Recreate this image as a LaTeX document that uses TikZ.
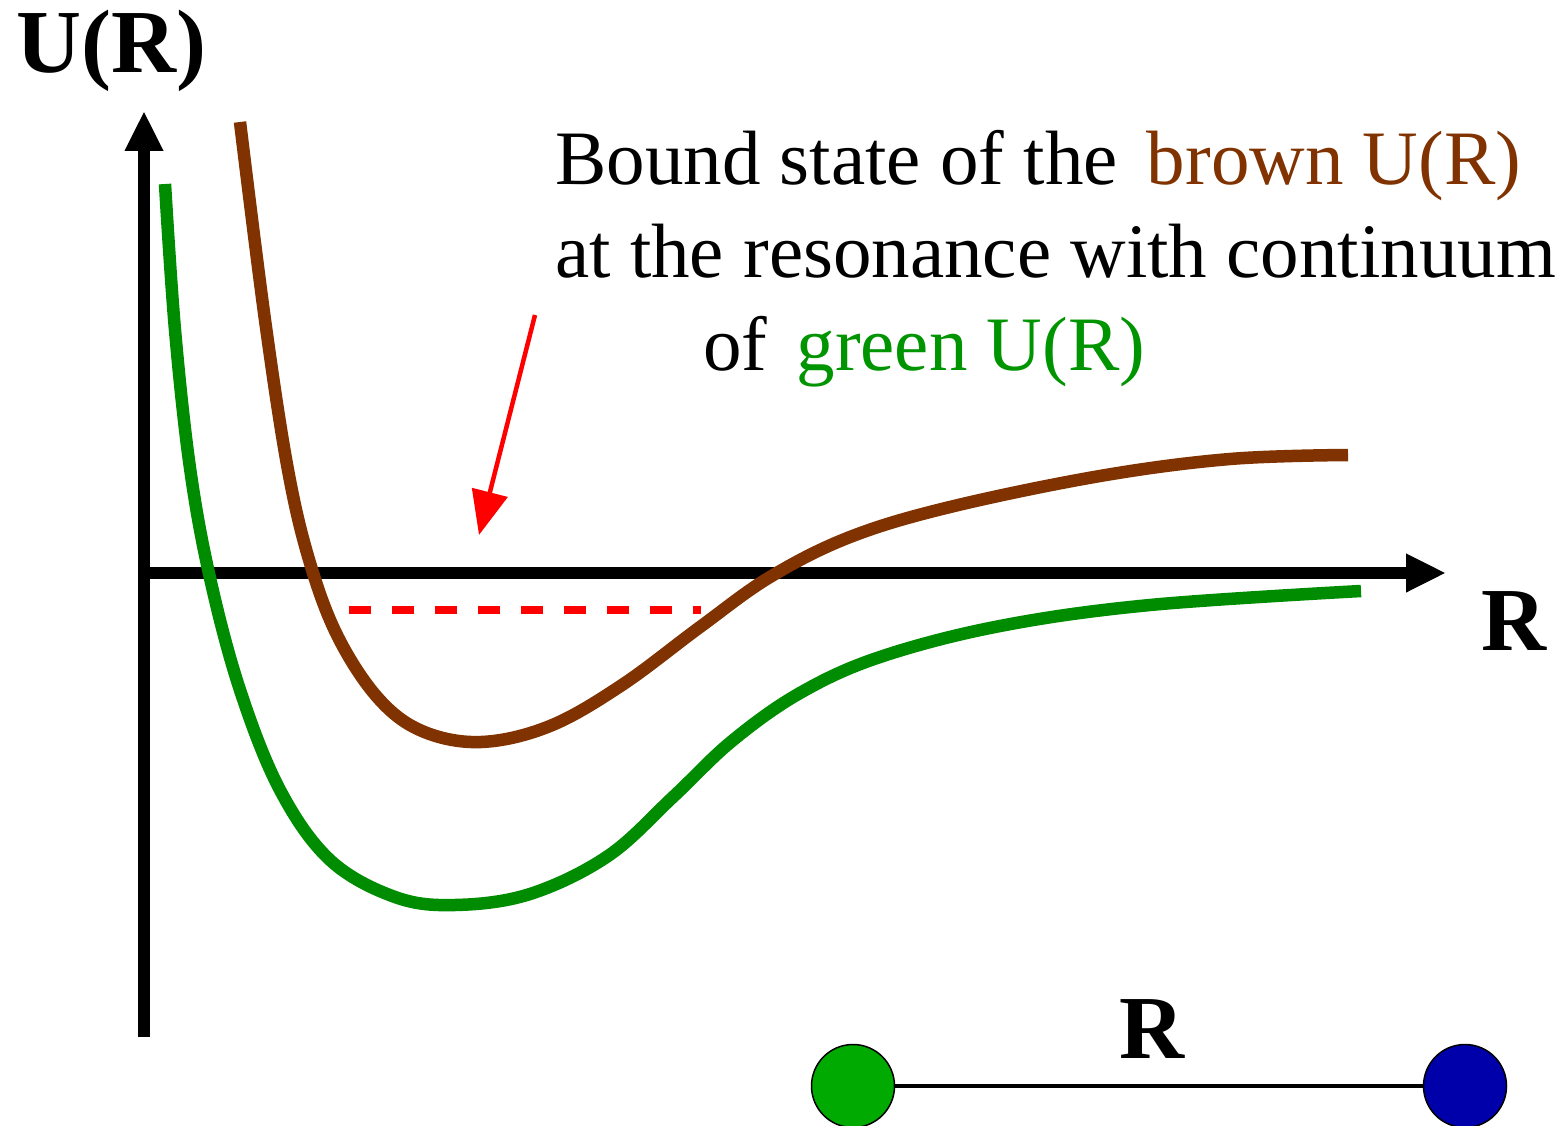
\documentclass[tikz,border=0pt]{standalone}
\usepackage{fontspec}
\setmainfont{Liberation Serif}
\usetikzlibrary{arrows.meta}
\definecolor{brownc}{RGB}{128,51,0}
\definecolor{greenc}{RGB}{0,140,0}
\definecolor{greentxt}{RGB}{0,148,0}
\definecolor{ballgreen}{RGB}{0,170,0}
\definecolor{ballblue}{RGB}{0,0,170}
\begin{document}
\begin{tikzpicture}[x=1pt,y=-1pt,
  axis/.style={line width=12pt,-{Triangle[length=40pt,width=36pt]}},
  curve/.style={line width=12.5pt,line join=round},
  bigtxt/.style={font=\fontsize{77}{92}\selectfont,inner sep=0pt,anchor=base west},
  boldlbl/.style={font=\fontsize{90}{100}\selectfont\bfseries,inner sep=0pt,anchor=base west},
  ball/.style={circle,draw=black,line width=1.5pt,minimum size=83pt,inner sep=0pt}]
\useasboundingbox (0,0) rectangle (1566,1126);
% axes
\coordinate (origin) at (144,573);
\coordinate (ybottom) at (144,1037);
\coordinate (ytop) at (144,111);
\coordinate (xright) at (1446,573);
\draw[axis] (ybottom) -- (ytop);
\draw[axis] (origin) -- (xright);
% labels
\node[boldlbl] (ulabel) at (16,73) {U(R)};
\node[boldlbl] (rlabel) at (1481,650) {R};
% brown curve
\draw[curve,brownc] plot[smooth,tension=0.6] coordinates {
 (240,122) (265,320) (288,470) (310,563) (338,637) (378,698) (422,731) (481,742)
 (550,726) (622,685) (700,627) (770,577) (850,537) (950,507) (1100,476) (1230,459) (1348,455)};
% green curve
\draw[curve,greenc] plot[smooth,tension=0.6] coordinates {
 (165,184) (175,330) (190,468) (210,578) (240,690) (280,790) (330,860) (395,897) (455,905)
 (530,894) (608,856) (673,797) (732,741) (800,693) (880,657) (1000,626) (1150,605) (1361,591)};
% dashed bound state
\coordinate (ds) at (349,610);
\coordinate (de) at (701,610);
\draw[red,line width=8pt,dash pattern=on 22pt off 21pt] (ds) -- (de);
% text
\node[bigtxt] (t1) at (555,185) {Bound state of the\hspace{10pt} \textcolor{brownc}{brown U(R)}};
\node[bigtxt] (t2) at (555,277) {at the resonance with continuum};
\node[bigtxt] (t3) at (703,370) {of\hspace{10pt} \textcolor{greentxt}{green U(R)}};
% red arrow
\coordinate (as) at (535,315);
\coordinate (ae) at (479,535);
\draw[red,line width=4.5pt,-{Triangle[length=44pt,width=36pt]}] (as) -- (ae);
% molecule
\node[ball,fill=ballgreen] (ga) at (853,1086) {};
\node[ball,fill=ballblue] (ba) at (1465,1086) {};
\draw[line width=4pt] (ga) -- (ba);
\node[boldlbl] (rbond) at (1119,1058) {R};
\end{tikzpicture}
\end{document}
